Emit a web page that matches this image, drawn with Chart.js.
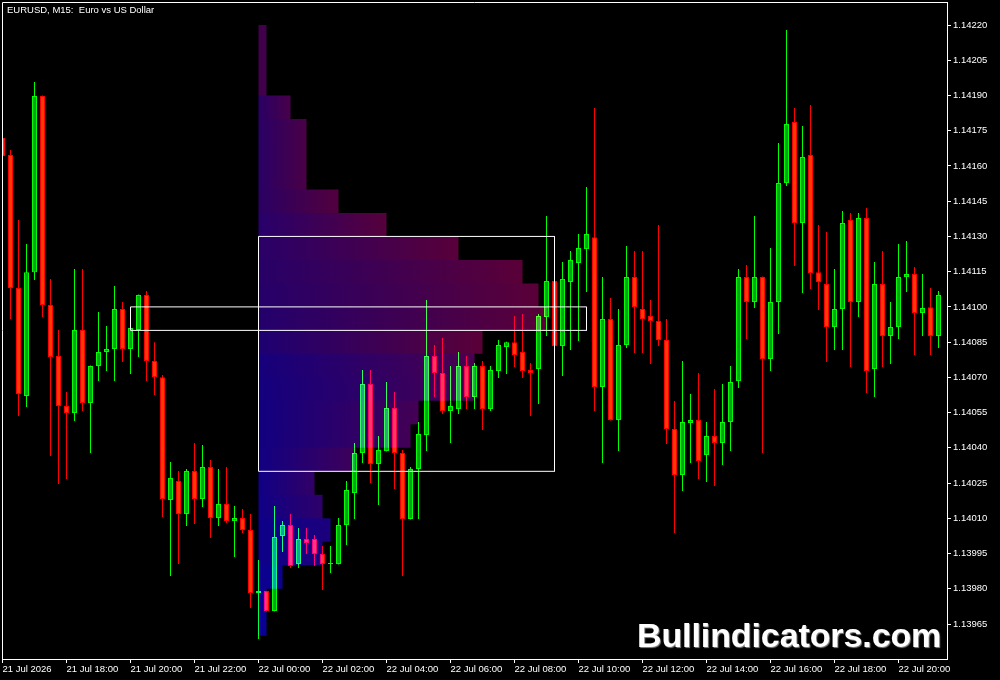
<!DOCTYPE html>
<html>
<head>
<meta charset="utf-8">
<script src="https://cdn.jsdelivr.net/npm/chart.js@4.4.1/dist/chart.umd.min.js"></script>
<style>
html,body{margin:0;padding:0;background:#000;}
#wrap{position:relative;width:1000px;height:680px;overflow:hidden;background:#000;}
#title{position:absolute;left:7px;top:4px;color:#fff;font:9.5px "Liberation Sans",Arial,sans-serif;white-space:pre;}
#mark{position:absolute;left:637px;top:618px;color:#fff;font:bold 34px/34px "Liberation Sans",Arial,sans-serif;text-shadow:1px 1px 1px #8a8a8a;white-space:pre;letter-spacing:-0.1px;}
</style>
</head>
<body>
<div id="wrap">
  <canvas id="c" width="1000" height="680"></canvas>
  <div id="title">EURUSD, M15:  Euro vs US Dollar</div>
  <div id="mark">Bullindicators.com</div>
</div>
<script>
// EURUSD M15, one bar per 15 min starting 21 Jul 16:00
var OPEN = [1.141719,1.141647,1.141080,1.140621,1.141148,1.141898,1.141008,1.140791,1.140578,1.140548,
  1.140902,1.140591,1.140748,1.140808,1.140821,1.140991,1.140821,1.140902,1.141051,1.140770,
  1.140701,1.140178,1.140259,1.140118,1.140301,1.140182,1.140318,1.140101,1.140161,1.140088,
  1.140101,1.140050,1.139782,1.139790,1.139705,1.140025,1.140071,1.139905,1.140012,1.140012,
  1.139948,1.139905,1.139905,1.140071,1.140208,1.140378,1.140672,1.140331,1.140386,1.140570,
  1.140378,1.140097,1.140310,1.140455,1.140791,1.140719,1.140557,1.140565,1.140748,1.140616,
  1.140748,1.140565,1.140727,1.140829,1.140850,1.140808,1.140731,1.140736,1.140957,1.141110,
  1.140833,1.141106,1.141187,1.141246,1.141297,1.140659,1.140948,1.140518,1.140838,1.141127,
  1.140991,1.140961,1.140940,1.140859,1.140480,1.140284,1.140506,1.140518,1.140369,1.140450,
  1.140421,1.140510,1.140684,1.141127,1.141021,1.141127,1.140778,1.141021,1.141527,1.141787,
  1.141357,1.141647,1.141148,1.141097,1.140914,1.140991,1.141370,1.141021,1.141378,1.140736,
  1.141097,1.140876,1.140914,1.141127,1.141140,1.140974,1.140999,1.140876];
var HIGH = [1.141727,1.141668,1.141370,1.141268,1.141957,1.141900,1.141119,1.140902,1.140638,1.141161,
  1.141161,1.140750,1.140978,1.140919,1.141089,1.141021,1.140919,1.141053,1.141068,1.140850,
  1.140710,1.140340,1.140301,1.140310,1.140421,1.140412,1.140348,1.140310,1.140318,1.140152,
  1.140140,1.140118,1.139922,1.139792,1.140152,1.140088,1.140118,1.140059,1.140059,1.140029,
  1.139982,1.139982,1.140101,1.140259,1.140421,1.140731,1.140731,1.140450,1.140680,1.140638,
  1.140391,1.140318,1.140510,1.141029,1.140838,1.140868,1.140748,1.140808,1.140791,1.140761,
  1.140770,1.140748,1.140859,1.140852,1.140961,1.140970,1.140761,1.140970,1.141387,1.141112,
  1.141191,1.141238,1.141310,1.141510,1.141847,1.141127,1.141038,1.140991,1.141259,1.141238,
  1.141238,1.141029,1.141349,1.140948,1.140599,1.140770,1.140629,1.140719,1.140510,1.140650,
  1.140672,1.140748,1.141161,1.141178,1.141387,1.141129,1.141251,1.141698,1.142179,1.141847,
  1.141770,1.141859,1.141349,1.141319,1.141161,1.141408,1.141400,1.141400,1.141421,1.141191,
  1.141238,1.141021,1.141268,1.141280,1.141170,1.141140,1.141080,1.141068];
var LOW = [1.141634,1.140948,1.140535,1.140574,1.141114,1.140957,1.140365,1.140246,1.140267,1.140514,
  1.140557,1.140378,1.140684,1.140727,1.140684,1.140765,1.140714,1.140787,1.140684,1.140625,
  1.140105,1.139854,1.139905,1.140067,1.140076,1.140148,1.140016,1.140067,1.140080,1.139935,
  1.140037,1.139718,1.139586,1.139703,1.139703,1.139956,1.139888,1.139888,1.139948,1.139897,
  1.139795,1.139867,1.139903,1.139986,1.140097,1.140335,1.140250,1.140157,1.140384,1.140225,
  1.139854,1.140095,1.140097,1.140386,1.140616,1.140544,1.140421,1.140544,1.140565,1.140565,
  1.140476,1.140557,1.140697,1.140714,1.140744,1.140697,1.140535,1.140587,1.140876,1.140831,
  1.140706,1.140816,1.140855,1.141063,1.140557,1.140335,1.140516,1.140386,1.140825,1.140804,
  1.140804,1.140757,1.140833,1.140416,1.140037,1.140216,1.140335,1.140267,1.140254,1.140237,
  1.140327,1.140386,1.140655,1.140863,1.140995,1.140378,1.140727,1.140885,1.141515,1.141174,
  1.141059,1.141076,1.140987,1.140765,1.140816,1.140816,1.140744,1.140957,1.140633,1.140616,
  1.140744,1.140757,1.140863,1.141063,1.140795,1.140876,1.140795,1.140825];
var CLOSE = [1.141642,1.141080,1.140629,1.141148,1.141898,1.141008,1.140787,1.140578,1.140548,1.140902,
  1.140591,1.140748,1.140808,1.140821,1.140991,1.140821,1.140910,1.141051,1.140770,1.140701,
  1.140182,1.140272,1.140118,1.140301,1.140182,1.140318,1.140101,1.140161,1.140088,1.140101,
  1.140050,1.139782,1.139790,1.139705,1.140020,1.140071,1.139897,1.140012,1.139995,1.139948,
  1.139905,1.139908,1.140071,1.140220,1.140378,1.140672,1.140331,1.140391,1.140570,1.140378,
  1.140097,1.140310,1.140459,1.140791,1.140719,1.140557,1.140578,1.140748,1.140616,1.140748,
  1.140565,1.140731,1.140838,1.140850,1.140795,1.140727,1.140719,1.140961,1.141110,1.140833,
  1.141119,1.141200,1.141251,1.141310,1.140659,1.140948,1.140518,1.140838,1.141127,1.140999,
  1.140948,1.140940,1.140859,1.140480,1.140284,1.140510,1.140518,1.140344,1.140450,1.140421,
  1.140510,1.140680,1.141127,1.141021,1.141127,1.140778,1.141021,1.141527,1.141779,1.141357,
  1.141638,1.141144,1.141106,1.140914,1.140991,1.141357,1.141021,1.141378,1.140727,1.141097,
  1.140876,1.140914,1.141127,1.141140,1.140974,1.140995,1.140876,1.141051];

var TIME_TICKS = [0,8,16,24,32,40,48,56,64,72,80,88,96,104,112];
var TIME_LABELS = ['21 Jul 2026','21 Jul 18:00','21 Jul 20:00','21 Jul 22:00','22 Jul 00:00','22 Jul 02:00',
  '22 Jul 04:00','22 Jul 06:00','22 Jul 08:00','22 Jul 10:00','22 Jul 12:00','22 Jul 14:00',
  '22 Jul 16:00','22 Jul 18:00','22 Jul 20:00'];
var PRICE_TICKS = [1.13965,1.13980,1.13995,1.14010,1.14025,1.14040,1.14055,1.14070,1.14085,
  1.14100,1.14115,1.14130,1.14145,1.14160,1.14175,1.14190,1.14205,1.14220];

// 22 Jul session profile: bars touching each 10-point bin
var PROFILE_BINS = [1.14215,1.14205,1.14195,1.14185,1.14175,1.14165,1.14155,1.14145,1.14135,1.14125,
  1.14115,1.14105,1.14095,1.14085,1.14075,1.14065,1.14055,1.14045,1.14035,1.14025,
  1.14015,1.14005,1.13995,1.13985,1.13975,1.13965];
var PROFILE_TPO = [1,1,1,4,6,6,6,10,16,25,33,35,36,28,27,27,20,19,12,7,8,9,8,3,1,1];
var SESSION_START = 32;
var VA_HIGH = 1.14130, VA_LOW = 1.14030, VA_END = 69;
var POC_HIGH = 1.14100, POC_LOW = 1.14090, POC_FROM = 16, POC_TO = 73;

// profile colours, left end -> right end of each row
var PROFILE_LEFT = ['#40004a','#40004a','#40004a','#2a0066','#2a0066','#2a0066','#2a0066','#2a0064','#28006c','#2a0068',
  '#280068','#26006a','#24006c','#1e0072','#16007c','#14007e','#120080','#120080','#120082','#100086',
  '#100086','#0e008a','#0e008a','#0c0090','#0a0094','#0a0094'];
var PROFILE_RIGHT = ['#40004a','#40004a','#40004a','#48004a','#4a0046','#4a0046','#4a0046','#52003e','#56003c','#58003a',
  '#5a0038','#5a0038','#5a0038','#5a0038','#4a004e','#480050','#440054','#420056','#3e005a','#320066',
  '#2e006a','#1c007c','#1c007c','#0e008c','#0a0094','#0a0094'];

var FONT = '"Liberation Sans", Arial, sans-serif';
var UP_BORDER = '#00ff00', UP_FILL = '#00a020', DN_BORDER = '#ff0000', DN_FILL = '#ff3a00';

var idx = OPEN.map(function(o, i){ return i; });
function up(i){ return CLOSE[i] >= OPEN[i]; }

var wickData = idx.map(function(i){ return {x:i, y:[LOW[i], HIGH[i]]}; });
var bodyData = idx.map(function(i){ return {x:i, y:[OPEN[i], CLOSE[i]]}; });
var profileData = PROFILE_BINS.map(function(p, k){ return {y:p, x:[SESSION_START, SESSION_START + PROFILE_TPO[k]]}; });
var vaBox = [{x:SESSION_START,y:VA_HIGH},{x:VA_END,y:VA_HIGH},{x:VA_END,y:VA_LOW},{x:SESSION_START,y:VA_LOW},{x:SESSION_START,y:VA_HIGH}];
var pocBox = [{x:POC_FROM,y:POC_HIGH},{x:POC_TO,y:POC_HIGH},{x:POC_TO,y:POC_LOW},{x:POC_FROM,y:POC_LOW},{x:POC_FROM,y:POC_HIGH}];

function profileFill(c) {
  var ch = c.chart;
  if (!ch.chartArea || c.dataIndex === undefined || !ch.scales.x) return PROFILE_LEFT[0];
  var k = c.dataIndex;
  var x0 = ch.scales.x.getPixelForValue(SESSION_START);
  var x1 = ch.scales.x.getPixelForValue(SESSION_START + PROFILE_TPO[k]);
  var g = ch.ctx.createLinearGradient(x0, 0, x1, 0);
  g.addColorStop(0, PROFILE_LEFT[k]);
  g.addColorStop(1, PROFILE_RIGHT[k]);
  return g;
}

var bgPlugin = {id:'bg', beforeDraw:function(ch){
  var ctx = ch.ctx; ctx.save(); ctx.fillStyle = '#000'; ctx.fillRect(0, 0, ch.width, ch.height); ctx.restore();
}};
// the profile is added on top of the candles, as in the terminal
var blendPlugin = {id:'blend',
  beforeDatasetDraw:function(ch, args){ if (ch.data.datasets[args.index].blend) { ch.ctx.save(); ch.ctx.globalCompositeOperation = 'lighter'; } },
  afterDatasetDraw:function(ch, args){ if (ch.data.datasets[args.index].blend) ch.ctx.restore(); }
};
var framePlugin = {id:'frame', afterDraw:function(ch){
  var a = ch.chartArea, ctx = ch.ctx;
  ctx.save(); ctx.strokeStyle = '#fff'; ctx.lineWidth = 1;
  ctx.beginPath(); ctx.moveTo(a.left + 0.5, a.bottom); ctx.lineTo(a.left + 0.5, a.top + 0.5); ctx.lineTo(a.right, a.top + 0.5); ctx.stroke();
  ctx.restore();
}};

var axisGrid = {display:true, drawOnChartArea:false, drawTicks:true, tickLength:4, color:'#fff', offset:false};

new Chart(document.getElementById('c'), {
  type:'bar',
  data:{datasets:[
    {type:'line', data:vaBox, borderColor:'#fff', borderWidth:1, pointRadius:0, fill:false, tension:0, order:0},
    {type:'line', data:pocBox, borderColor:'#fff', borderWidth:1, pointRadius:0, fill:false, tension:0, order:0},
    {type:'bar', indexAxis:'y', data:profileData, backgroundColor:profileFill, borderWidth:0, inflateAmount:0,
      barThickness:23.49, grouped:false, order:1, blend:true},
    {type:'bar', data:bodyData, backgroundColor:idx.map(function(i){ return up(i) ? UP_FILL : DN_FILL; }),
      borderColor:idx.map(function(i){ return up(i) ? UP_BORDER : DN_BORDER; }), borderWidth:1, borderSkipped:false,
      inflateAmount:0, barThickness:5, minBarLength:1, grouped:false, order:2},
    {type:'bar', data:wickData, backgroundColor:idx.map(function(i){ return up(i) ? UP_BORDER : DN_BORDER; }),
      borderWidth:0, inflateAmount:0, barThickness:1, grouped:false, order:3}
  ]},
  options:{
    responsive:false, animation:false, devicePixelRatio:1, events:[],
    layout:{padding:{left:2, top:2, right:0, bottom:0}},
    plugins:{legend:{display:false}, tooltip:{enabled:false}},
    scales:{
      x:{type:'linear', min:-0.0625, max:118.0625, offset:false, bounds:'data', grid:axisGrid,
        border:{display:true, color:'#fff', width:1},
        ticks:{color:'#fff', font:{family:FONT, size:9.5}, align:'start', padding:1, maxRotation:0, autoSkip:false,
          callback:function(v, i){ return TIME_LABELS[i]; }},
        afterBuildTicks:function(s){ s.ticks = TIME_TICKS.map(function(v){ return {value:v}; }); },
        afterFit:function(s){ s.height = 21; s.paddingLeft = 0; s.paddingRight = 0; }
      },
      y:{type:'linear', position:'right', min:1.139501, max:1.142298, offset:false, bounds:'data', grid:axisGrid,
        border:{display:true, color:'#fff', width:1},
        ticks:{color:'#fff', font:{family:FONT, size:9.5}, padding:2, autoSkip:false, crossAlign:'near',
          callback:function(v){ return v.toFixed(5); }},
        afterBuildTicks:function(s){ s.ticks = PRICE_TICKS.map(function(v){ return {value:v}; }); },
        afterFit:function(s){ s.width = 53; s.paddingTop = 0; s.paddingBottom = 0; }
      }
    }
  },
  plugins:[bgPlugin, blendPlugin, framePlugin]
});
</script>
</body>
</html>
